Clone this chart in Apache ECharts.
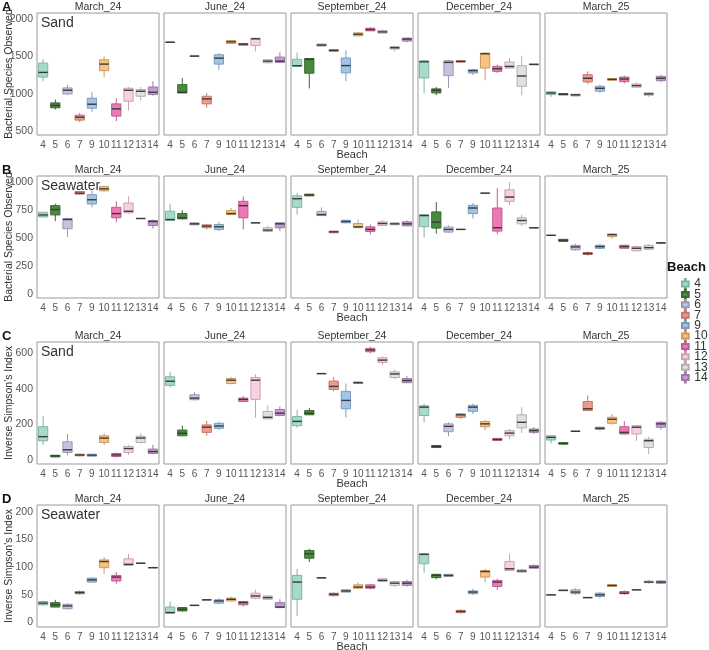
<!DOCTYPE html>
<html>
<head>
<meta charset="utf-8">
<script src="https://cdn.jsdelivr.net/npm/echarts@6/dist/echarts.min.js"></script>
<style>
  html, body { margin: 0; padding: 0; background: #fff; }
  #chart { width: 709px; height: 650px; }
</style>
</head>
<body>
<div id="chart"></div>
<script>
const beaches = ['4', '5', '6', '7', '9', '10', '11', '12', '13', '14']
const seasons = ['March_24', 'June_24', 'September_24', 'December_24', 'March_25']

// each box: [min, q1, median, q3, max], one list of 10 beaches per season
const sandRichness = [
  [[1166,1223,1285,1410,1463],[788,811,842,877,922],[979,997,1046,1077,1121],[620,646,686,713,744],[757,806,859,939,1019],
   [1223,1308,1396,1454,1499],[633,700,797,864,939],[775,899,1046,1073,1090],[908,966,1032,1055,1090],[975,988,1019,1090,1166]],
  [[1686,1687,1689,1691,1692],[1010,1010,1019,1121,1210],[1500,1501,1503,1505,1506],[811,864,930,966,1010],[1321,1396,1476,1521,1543],
   [1667,1672,1694,1712,1720],[1645,1649,1663,1672,1680],[1565,1645,1734,1743,1751],[1401,1414,1436,1454,1463],[1410,1419,1436,1490,1552]],
  [[1365,1365,1375,1460,1550],[1071,1274,1460,1470,1470],[1635,1638,1651,1664,1668],[1562,1566,1580,1589,1592],[1168,1279,1376,1478,1579],
   [1774,1774,1796,1814,1830],[1838,1841,1859,1876,1890],[1810,1810,1827,1845,1862],[1566,1598,1615,1632,1641],[1686,1704,1731,1744,1744]],
  [[1006,1210,1427,1441,1454],[979,1010,1046,1064,1090],[1077,1241,1419,1441,1454],[1419,1423,1432,1441,1445],[1250,1277,1308,1321,1334],
   [1179,1343,1534,1543,1556],[1277,1299,1334,1365,1388],[1334,1343,1365,1423,1476],[979,1099,1237,1374,1507],[1385,1388,1392,1396,1399]],
  [[957,988,1010,1024,1033],[980,984,993,1001,1005],[966,970,984,993,997],[1130,1157,1206,1254,1299],[1010,1033,1072,1099,1121],
   [1175,1179,1192,1201,1205],[1135,1161,1197,1223,1241],[1077,1086,1108,1130,1152],[957,979,997,1010,1024],[1152,1174,1206,1232,1254]]
]
const seaRichness = [
  [[686,689,707,731,731],[651,707,755,790,808],[509,583,666,675,681],[890,894,902,917,920],[775,805,843,888,926],
   [914,923,941,962,970],[642,681,719,775,829],[719,725,740,814,873],[673,674,675,676,677],[583,612,648,657,666]],
  [[657,657,666,740,808],[666,672,681,719,749],[615,618,627,636,640],[577,592,607,618,627],[562,577,601,621,642],
   [710,710,719,746,769],[577,681,790,829,873],[634,635,636,637,638],[556,559,571,592,612],[562,592,627,636,642]],
  [[710,775,852,878,902],[875,878,886,893,896],[701,701,710,739,775],[544,547,555,562,565],[633,636,648,659,662],
   [592,592,600,630,665],[532,559,577,600,621],[612,612,630,645,659],[615,618,627,636,639],[609,609,627,645,659]],
  [[503,601,701,710,710],[539,589,642,734,823],[547,553,577,598,612],[575,576,577,578,579],[675,719,769,793,814],
   [900,901,902,903,904],[533,562,592,769,947],[799,828,867,932,1000],[607,627,657,681,710],[590,591,592,593,594]],
  [[522,523,524,525,526],[467,470,479,488,491],[385,394,420,435,450],[340,352,361,370,379],[399,408,423,435,444],
   [494,512,530,536,541],[405,408,423,435,438],[379,385,408,423,435],[394,399,414,435,444],[454,455,456,457,458]]
]
const sandSimpson = [
  [[85,108,131,187,246],[15,17,23,26,28],[28,42,57,102,146],[20,23,28,32,34],[18,21,27,32,34],
   [83,98,123,136,150],[13,19,28,36,42],[28,42,64,76,85],[93,98,123,133,150],[32,36,47,61,85]],
  [[407,420,443,468,496],[136,136,150,168,193],[335,339,348,367,382],[136,155,184,197,221],[168,178,191,206,216],
   [426,430,449,458,468],[326,329,341,348,360],[237,341,449,464,483],[231,231,240,273,307],[246,250,263,284,301]],
  [[180,193,217,244,282],[254,254,263,278,293],[484,485,486,487,488],[386,397,414,444,467],[240,288,335,386,430],
   [428,430,435,439,441],[600,609,619,628,637],[535,549,562,575,584],[455,464,484,496,509],[432,435,447,458,472]],
  [[212,250,297,305,316],[67,70,76,81,84],[133,159,189,203,212],[231,240,254,259,265],[259,274,297,307,316],
   [168,187,203,216,225],[108,110,115,121,123],[117,136,151,165,174],[151,180,212,254,297],[146,155,165,174,184]],
  [[93,112,127,136,140],[86,89,93,97,99],[160,161,161,162,163],[274,278,288,329,363],[165,172,178,184,189],
   [199,206,229,240,259],[142,146,155,187,218],[108,146,184,193,197],[32,70,108,117,131],[170,184,203,212,218]]
]
const seaSimpson = [
  [[30,32,35,38,39],[28,28,32,36,41],[23,25,30,33,35],[50,52,54,56,58],[73,73,77,80,82],
   [88,99,110,113,118],[70,75,82,85,91],[103,103,105,115,124],[106,106.5,107,107.5,108],[98.5,98.7,99,99.3,99.5]],
  [[17,17,18,28,38],[20,21,24,27,28],[30.5,30.7,31,31.3,31.5],[40.5,40.7,41,41.3,41.5],[33,35,39,41,44],
   [38,39,42,44,47],[29,32,36,38,39],[42,44,48,53,59],[41,42,45,48,50],[26,27,28,36,42]],
  [[12,42,73,85,97],[109,116,124,130,133],[80,80.3,80.7,81,81.3],[47,48.5,51,53,54],[55,55,57,59,59],
   [60,62,64,68,73],[60,62,64,68,70],[74,74.5,76,79,79],[64,67,71,74,76],[65,67,71,74,77]],
  [[90,106,123,124,125],[78,81,85,87,88],[83,83,85,87,87],[16,18,20,22,24],[50,52,55,57,61],
   [73,82,92,94,97],[59,65,73,76,79],[93,94,97,110,124],[90,91,93,95,97],[97,98,100,103,105]],
  [[49.5,49.7,50,50.3,50.5],[57.5,57.7,58,58.3,58.5],[50,52,55,59,62],[44.5,44.7,45,45.3,45.5],[44,47,50,53,55],
   [65,65,67,68,68],[50,52,53,56,58],[58.5,58.7,59,59.3,59.5],[70,72,73,75,77],[70,71,73,75,76]]
]

const panelRows = [sandRichness, seaRichness, sandSimpson, seaSimpson]
const rowLetters = ['A', 'B', 'C', 'D']
const habitats = ['Sand', 'Seawater', 'Sand', 'Seawater']
const yTitles = ['Bacterial Species Observed', 'Bacterial Species Observed', "Inverse Simpson's Index", "Inverse Simpson's Index"]
const yTicks = [[500, 1000, 1500, 2000], [0, 250, 500, 750, 1000], [0, 200, 400, 600], [0, 50, 100, 150, 200]]
const yRanges = [[447, 2080], [-38, 1056], [-23, 664], [-8, 212]]

const fillColors = ['#a6dbcb', '#4b8a3e', '#c6c3e1', '#f29a88', '#a3c4e6', '#f8c37f', '#ee78b4', '#f8d0e3', '#e1e1e1', '#c49bd1']
const lineColors = ['#7fb3a4', '#3a6a30', '#9b98b5', '#c27a6c', '#7b9bbd', '#c89c63', '#bd5f90', '#c7a5b5', '#b0b0b0', '#9b7aa6']

const FONT = '"Liberation Sans", Arial, sans-serif'
const rowTops = [13, 176, 342, 505]
const colLefts = [37, 164, 291, 418, 545]
const PW = 122
const PH = 122

function renderBox(params, api) {
  const b = api.value(0)
  const lo = api.coord([b, api.value(1)])
  const q1 = api.coord([b, api.value(2)])
  const md = api.coord([b, api.value(3)])
  const q3 = api.coord([b, api.value(4)])
  const hi = api.coord([b, api.value(5)])
  const w = api.size([1, 0])[0] * 0.76
  const x = md[0]
  return {
    type: 'group',
    children: [
      { type: 'line', shape: { x1: x, y1: lo[1], x2: x, y2: hi[1] }, style: { stroke: lineColors[b], lineWidth: 1 } },
      { type: 'rect', shape: { x: x - w / 2, y: q3[1], width: w, height: Math.max(q1[1] - q3[1], 0) },
        style: { fill: fillColors[b], stroke: lineColors[b], lineWidth: 1 } },
      { type: 'line', shape: { x1: x - w / 2, y1: md[1], x2: x + w / 2, y2: md[1] }, style: { stroke: '#3a3a3a', lineWidth: 1.4 } }
    ]
  }
}

const grids = [], xAxes = [], yAxes = [], series = [], texts = []
panelRows.forEach((rowData, r) => {
  texts.push({ type: 'text', x: 2, y: rowTops[r] - 12, style: { text: rowLetters[r], font: 'bold 13px ' + FONT, fill: '#111' } })
  texts.push({ type: 'text', x: colLefts[0] + 4, y: rowTops[r] + 3, style: { text: habitats[r], font: '14px ' + FONT, fill: '#333' } })
  seasons.forEach((season, c) => {
    const g = grids.length
    grids.push({ left: colLefts[c], top: rowTops[r], width: PW, height: PH, show: true, outerBoundsMode: 'none',
      borderColor: '#9a9a9a', borderWidth: 1, backgroundColor: '#fff' })
    texts.push({ type: 'text', x: colLefts[c] + PW / 2, y: rowTops[r] - 6,
      style: { text: season, font: '10.5px ' + FONT, fill: '#333', align: 'center', verticalAlign: 'middle' } })
    xAxes.push({
      gridIndex: g, type: 'category', data: beaches,
      axisLine: { show: false }, axisTick: { show: false },
      axisLabel: { interval: 0, margin: 5, fontSize: 10, color: '#555', fontFamily: FONT, hideOverlap: false },
      name: c === 2 ? 'Beach' : '', nameLocation: 'middle', nameGap: 14, nameMoveOverlap: false,
      nameTextStyle: { fontSize: 11, color: '#333', fontFamily: FONT }
    })
    yAxes.push({
      gridIndex: g, type: 'value', min: yRanges[r][0], max: yRanges[r][1],
      splitLine: { show: false }, axisLine: { show: false }, axisTick: { show: false },
      axisLabel: { show: c === 0, customValues: yTicks[r], formatter: v => String(v), margin: 4, fontSize: 10.5, color: '#555', fontFamily: FONT },
      name: c === 0 ? yTitles[r] : '', nameLocation: 'middle', nameGap: 22, nameMoveOverlap: false,
      nameTextStyle: { fontSize: 10.5, color: '#333', fontFamily: FONT }
    })
    beaches.forEach((beach, b) => {
      series.push({
        type: 'custom', name: beach, xAxisIndex: g, yAxisIndex: g,
        itemStyle: { color: fillColors[b], borderColor: lineColors[b], borderWidth: 1 },
        renderItem: renderBox, clip: false,
        encode: { x: 0, y: [1, 2, 3, 4, 5] },
        data: [[b].concat(rowData[c][b])]
      })
    })
  })
})

texts.push({ type: 'text', x: 667, y: 261, style: { text: 'Beach', font: 'bold 13px ' + FONT, fill: '#111' } })

const chart = echarts.init(document.getElementById('chart'))
chart.setOption({
  animation: false,
  grid: grids,
  xAxis: xAxes,
  yAxis: yAxes,
  legend: {
    data: beaches, orient: 'vertical', left: 676, top: 273,
    itemWidth: 8, itemHeight: 10, itemGap: -1.6,
    icon: 'path://M3.5,0h1v3h-1z M0,3h8v6h-8z M3.5,9h1v3h-1z',
    textStyle: { fontSize: 12, lineHeight: 10, color: '#333', fontFamily: FONT }
  },
  graphic: texts,
  series: series
})
</script>
</body>
</html>
